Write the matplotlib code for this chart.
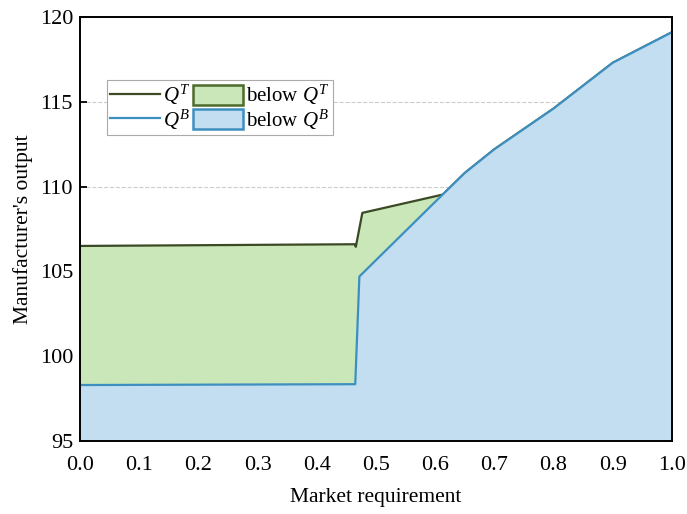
import matplotlib
matplotlib.use("Agg")
import matplotlib.pyplot as plt
from matplotlib.patches import Patch
from matplotlib.lines import Line2D

# Q^T curve (upper)
qt_x = [0.0, 0.464, 0.466, 0.477, 0.613, 0.65, 0.7, 0.8, 0.9, 1.0]
qt_y = [106.5, 106.6, 106.45, 108.45, 109.53, 110.8, 112.2, 114.6, 117.3, 119.1]

# Q^B curve (lower)
qb_x = [0.0, 0.465, 0.472, 0.6, 0.65, 0.7, 0.8, 0.9, 1.0]
qb_y = [98.3, 98.35, 104.7, 109.1, 110.8, 112.2, 114.6, 117.3, 119.1]

x_ticks = [0.0, 0.1, 0.2, 0.3, 0.4, 0.5, 0.6, 0.7, 0.8, 0.9, 1.0]
y_ticks = [95, 100, 105, 110, 115, 120]

green_fill = '#c9e7b9'
green_line = '#3b4a24'
blue_fill = '#c3ddf1'
blue_line = '#3d8fbf'

plt.rcParams['font.family'] = ['Liberation Serif', 'DejaVu Serif']
plt.rcParams['mathtext.fontset'] = 'custom'
plt.rcParams['mathtext.it'] = 'Liberation Serif:italic'
plt.rcParams['mathtext.rm'] = 'Liberation Serif'

fig = plt.figure(figsize=(6.87, 5.14), dpi=100)
ax = fig.add_axes([0.1164, 0.142, 0.8617, 0.825])

ax.yaxis.grid(True, linestyle='--', color='#cccccc', linewidth=0.8)
ax.set_axisbelow(True)

ax.fill_between(qt_x, 95, qt_y, color=green_fill, zorder=2)
ax.plot(qt_x, qt_y, color=green_line, linewidth=1.6, zorder=3)
ax.fill_between(qb_x, 95, qb_y, color=blue_fill, zorder=4)
ax.plot(qb_x, qb_y, color=blue_line, linewidth=1.6, zorder=5)

ax.set_xlim(0, 1.0)
ax.set_ylim(95, 120)
ax.set_xticks(x_ticks)
ax.set_yticks(y_ticks)
ax.set_xticklabels([f"{v:.1f}" for v in x_ticks])
ax.tick_params(direction='in', labelsize=16, length=5, width=1.3)
ax.tick_params(axis='x', pad=11)
ax.tick_params(axis='y', pad=5)
for s in ax.spines.values():
    s.set_linewidth(1.4)
    s.set_zorder(10)

ax.set_xlabel("Market requirement", fontsize=15.5, labelpad=9)
ax.set_ylabel("Manufacturer's output", fontsize=15.5, labelpad=5)

handles = [
    Line2D([], [], color=green_line, linewidth=1.6),
    Line2D([], [], color=blue_line, linewidth=1.6),
    Patch(facecolor=green_fill, edgecolor='#4d6b2c', linewidth=1.8),
    Patch(facecolor=blue_fill, edgecolor=blue_line, linewidth=1.8),
]
labels = [r"$Q^T$", r"$Q^B$", r"below $Q^T$", r"below $Q^B$"]
leg = ax.legend(handles, labels, ncol=2, loc='upper left',
                bbox_to_anchor=(0.046, 0.851), borderaxespad=0,
                fontsize=15, fancybox=False, framealpha=1,
                edgecolor='#aaaaaa', handlelength=2.4, handleheight=1.1,
                handletextpad=0.15, columnspacing=0.1, labelspacing=0.0,
                borderpad=0.15)
leg.set_zorder(20)
leg.get_frame().set_linewidth(0.8)

fig.savefig("out.png", dpi=100)
